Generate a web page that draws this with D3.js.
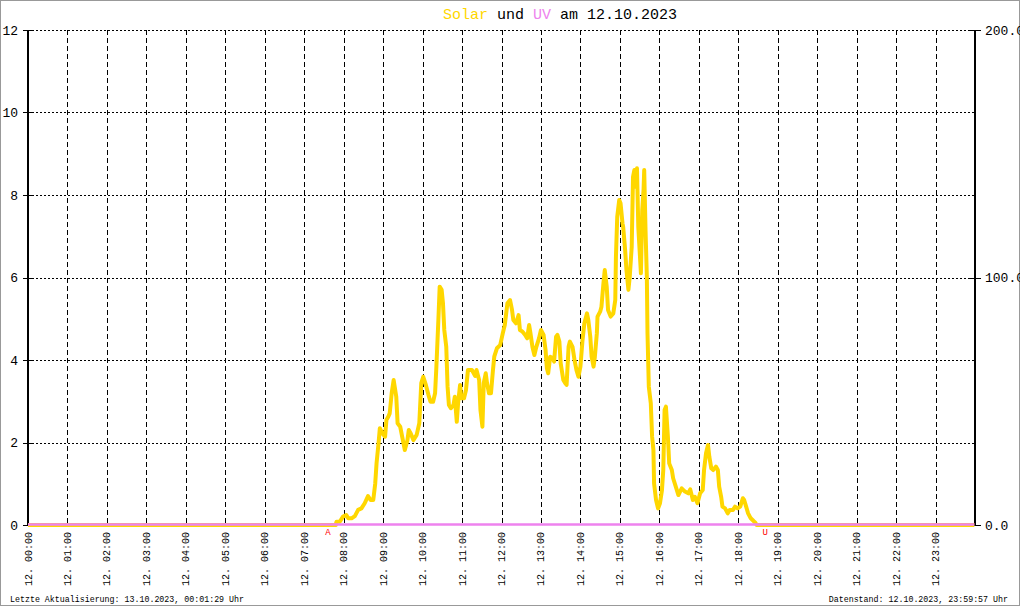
<!DOCTYPE html>
<html><head><meta charset="utf-8">
<script src="https://cdn.jsdelivr.net/npm/d3@7"></script>
<style>
html,body{margin:0;padding:0;background:#fff;}
svg{display:block;}
text{font-family:"Liberation Mono","DejaVu Sans Mono",monospace;}
</style></head><body>
<svg id="chart" width="1020" height="606"></svg>
<script>
// ---------- data ----------
const titleParts = ["Solar", " und ", "UV", " am 12.10.2023"];
const dayPrefix = "12.";
const hourTicks = ["00:00","01:00","02:00","03:00","04:00","05:00","06:00","07:00","08:00","09:00","10:00","11:00",
  "12:00","13:00","14:00","15:00","16:00","17:00","18:00","19:00","20:00","21:00","22:00","23:00"];
const leftTicks = [0,2,4,6,8,10,12];
const rightTicks = [0,100,200];
const rightTickLabels = ["0.0","100.0","200.0"];

const solarTimes = ["00:00","07:48","07:49","07:54","07:59","08:04","08:07","08:12","08:17","08:22","08:27","08:32","08:37","08:41","08:45","08:48","08:50","08:53","08:55","08:59",
"09:03","09:05","09:08","09:10","09:13","09:16","09:20","09:22","09:26","09:30","09:33","09:37","09:39","09:42","09:46","09:51","09:55","09:58",
"10:01","10:05","10:09","10:12","10:16","10:19","10:21","10:24","10:26","10:29","10:31","10:33","10:36","10:38","10:40","10:43","10:47","10:49","10:52","10:54","10:57","10:59",
"11:03","11:06","11:09","11:15","11:20","11:22","11:26","11:28","11:31","11:33","11:36","11:38","11:41","11:44","11:47","11:49","11:53","11:58",
"12:02","12:05","12:09","12:13","12:16","12:18","12:22","12:26","12:28","12:32","12:36","12:39","12:42","12:44","12:47","12:50","12:53","12:57",
"13:00","13:04","13:07","13:09","13:11","13:14","13:18","13:20","13:23","13:25","13:28","13:30","13:34","13:37","13:39","13:42","13:44","13:48","13:51","13:54","13:57",
"14:00","14:03","14:06","14:10","14:12","14:15","14:17","14:20","14:22","14:25","14:26","14:30","14:32","14:35","14:37","14:40","14:42","14:46","14:50","14:53","14:54","14:56","14:59",
"15:01","15:04","15:05","15:08","15:10","15:13","15:15","15:18","15:20","15:22","15:24","15:26","15:28","15:30","15:32","15:34","15:36","15:37","15:39","15:41","15:42","15:44","15:47","15:49","15:51","15:52","15:55","15:58",
"16:01","16:04","16:06","16:08","16:10","16:13","16:15","16:19","16:21","16:25","16:29","16:34","16:39","16:44","16:47","16:51","16:54","16:58",
"17:02","17:06","17:08","17:11","17:14","17:16","17:19","17:22","17:26","17:29","17:31","17:34","17:36","17:40","17:44","17:47","17:52","17:55","17:59",
"18:03","18:07","18:09","18:12","18:15","18:19","18:23","18:26","18:28","23:59"];
const solarValues = [0,0,1.3,1.3,3.4,4.0,2.7,2.7,3.6,6.1,6.7,8.8,11.7,10.1,10.1,16.8,24.9,33.0,39.1,37.0,
35.7,42.4,43.8,45.1,53.2,58.6,51.8,41.1,39.7,34.3,30.3,34.3,38.4,37.0,34.3,36.4,41.1,57.3,
59.9,56.6,52.5,49.8,49.8,53.2,64.0,82.8,96.3,95.0,89.6,78.8,72.0,55.9,48.5,47.2,48.5,51.8,41.7,49.2,56.6,51.2,
51.2,54.5,62.6,62.6,60.2,62.6,58.6,46.5,39.7,57.3,61.3,57.3,53.2,53.2,62.6,68.0,71.4,72.7,
77.5,80.8,89.6,90.9,86.9,82.8,81.5,84.8,78.8,78.1,76.8,75.4,80.8,77.5,72.0,68.7,72.0,75.4,
78.8,76.8,70.7,63.3,61.3,68.0,67.4,66.0,76.1,76.8,74.1,65.3,58.6,57.3,56.6,72.0,74.1,72.0,66.7,62.6,59.9,
64.0,74.1,81.5,85.5,82.8,76.1,68.0,64.0,68.0,77.5,84.2,86.2,88.2,97.6,103.0,96.3,86.9,84.2,85.5,90.9,108.4,124.6,131.3,
130.0,121.9,120.5,111.1,103.0,95.0,100.3,112.4,140.7,143.4,136.7,144.1,120.5,111.1,101.7,127.3,135.4,143.4,119.2,100.3,77.5,55.9,49.2,35.7,30.3,16.8,10.1,6.7,
8.8,14.1,22.2,46.5,47.8,35.7,24.9,22.2,18.9,15.5,12.1,14.8,13.5,12.8,14.4,10.1,11.4,8.8,
12.8,14.1,22.2,29.0,32.3,27.6,22.9,22.2,23.6,22.2,15.5,11.4,7.4,6.7,4.7,6.1,6.1,7.4,6.7,
7.4,10.8,10.1,7.4,4.7,2.7,1.7,0.9,0,0];

const uvTimes = ["00:00","01:00","02:00","03:00","04:00","05:00","06:00","07:00","08:00","09:00","10:00","11:00",
  "12:00","13:00","14:00","15:00","16:00","17:00","18:00","19:00","20:00","21:00","22:00","23:00","23:59"];
const uvValues = [0,0,0,0,0,0,0,0,0,0,0,0,0,0,0,0,0,0,0,0,0,0,0,0,0];

const sunTimes = ["07:36","18:41"];
const sunLabels = ["A","U"];
const footerLeft = "Letzte Aktualisierung: 13.10.2023, 00:01:29 Uhr";
const footerRight = "Datenstand: 12.10.2023, 23:59:57 Uhr";

// ---------- chart ----------
const svg = d3.select("#chart");
const toH = s => { const [h, mm] = s.split(":").map(Number); return h + mm / 60; };
const x = d3.scaleLinear().domain([0, 24]).range([28, 975]);
const yL = d3.scaleLinear().domain([0, 12]).range([525, 30]);
const yR = d3.scaleLinear().domain([0, 200]).range([525, 30]);
const px = v => Math.round(v) + 0.5;

// border
svg.append("rect").attr("x", 0.5).attr("y", 0.5).attr("width", 1019).attr("height", 605)
  .attr("fill", "#fff").attr("stroke", "#999").attr("stroke-width", 1);

// horizontal grid (dotted)
svg.append("g").selectAll("line").data(leftTicks.filter(d => d > 0)).join("line")
  .attr("x1", x(0)).attr("x2", x(24))
  .attr("y1", d => px(yL(d))).attr("y2", d => px(yL(d)))
  .attr("stroke", "#000").attr("stroke-width", 1).attr("stroke-dasharray", "2,2")
  .attr("shape-rendering", "crispEdges");

// vertical grid (dashed)
svg.append("g").selectAll("line").data(d3.range(1, 24)).join("line")
  .attr("x1", d => px(x(d))).attr("x2", d => px(x(d)))
  .attr("y1", yL(12)).attr("y2", yL(0))
  .attr("stroke", "#000").attr("stroke-width", 1).attr("stroke-dasharray", "5,3")
  .attr("shape-rendering", "crispEdges");

// axes lines
[x(0), x(24)].forEach(xx => {
  svg.append("line").attr("x1", xx).attr("x2", xx).attr("y1", yL(12)).attr("y2", yL(0))
    .attr("stroke", "#000").attr("stroke-width", 2);
});

// left ticks + labels
const gl = svg.append("g");
gl.selectAll("line").data(leftTicks).join("line")
  .attr("x1", x(0) - 5).attr("x2", x(0) + 4)
  .attr("y1", d => px(yL(d))).attr("y2", d => px(yL(d)))
  .attr("stroke", "#000").attr("shape-rendering", "crispEdges");
gl.selectAll("text").data(leftTicks).join("text")
  .attr("x", 18).attr("y", d => yL(d)).attr("dy", "0.36em")
  .attr("text-anchor", "end").attr("font-size", "13px").attr("fill", "#000")
  .text(d => d);

// right ticks + labels
const gr = svg.append("g");
gr.selectAll("line").data(rightTicks).join("line")
  .attr("x1", x(24) - 7).attr("x2", x(24) + 6)
  .attr("y1", d => px(yR(d))).attr("y2", d => px(yR(d)))
  .attr("stroke", "#000").attr("shape-rendering", "crispEdges");
gr.selectAll("text").data(rightTicks).join("text")
  .attr("x", 985).attr("y", d => yR(d)).attr("dy", "0.36em")
  .attr("text-anchor", "start").attr("font-size", "13px").attr("fill", "#000")
  .text((d, i) => rightTickLabels[i]);

// x labels (rotated)
svg.append("g").selectAll("text").data(hourTicks).join("text")
  .attr("transform", (d, i) => `translate(${x(i)},532) rotate(-90)`)
  .attr("text-anchor", "end").attr("dy", "0.35em")
  .attr("font-size", "10px").attr("fill", "#000")
  .text(d => `${dayPrefix} ${d}`);

// solar line
const solar = solarTimes.map((t, i) => ({ t: toH(t), v: solarValues[i] }));
svg.append("path").datum(solar)
  .attr("d", d3.line().x(d => x(d.t)).y(d => yR(d.v)))
  .attr("fill", "none").attr("stroke", "#FFD700").attr("stroke-width", 4)
  .attr("stroke-linejoin", "round");

// uv line
const uv = uvTimes.map((t, i) => ({ t: toH(t), v: uvValues[i] }));
svg.append("path").datum(uv)
  .attr("d", d3.line().x(d => x(d.t)).y(d => yL(d.v)))
  .attr("transform", "translate(0,-0.5)")
  .attr("fill", "none").attr("stroke", "#EE82EE").attr("stroke-width", 2.5);

// sunrise / sunset markers
svg.append("g").selectAll("text").data(sunTimes).join("text")
  .attr("x", d => x(toH(d))).attr("y", 534.5)
  .attr("text-anchor", "middle").attr("font-size", "9px").attr("fill", "#ff0000")
  .text((d, i) => sunLabels[i]);

// title
const colors = ["#FFD700", "#000", "#EE82EE", "#000"];
const title = svg.append("text").attr("x", 443).attr("y", 18.5)
  .attr("font-size", "15px").attr("xml:space", "preserve").style("white-space", "pre");
titleParts.forEach((p, i) => title.append("tspan").attr("fill", colors[i]).text(p));

// footer
svg.append("text").attr("x", 10).attr("y", 601.5).attr("font-size", "8.3px").attr("fill", "#000")
  .text(footerLeft);
svg.append("text").attr("x", 1008).attr("y", 601.5).attr("font-size", "8.3px").attr("fill", "#000")
  .attr("text-anchor", "end").text(footerRight);
</script>
</body></html>
